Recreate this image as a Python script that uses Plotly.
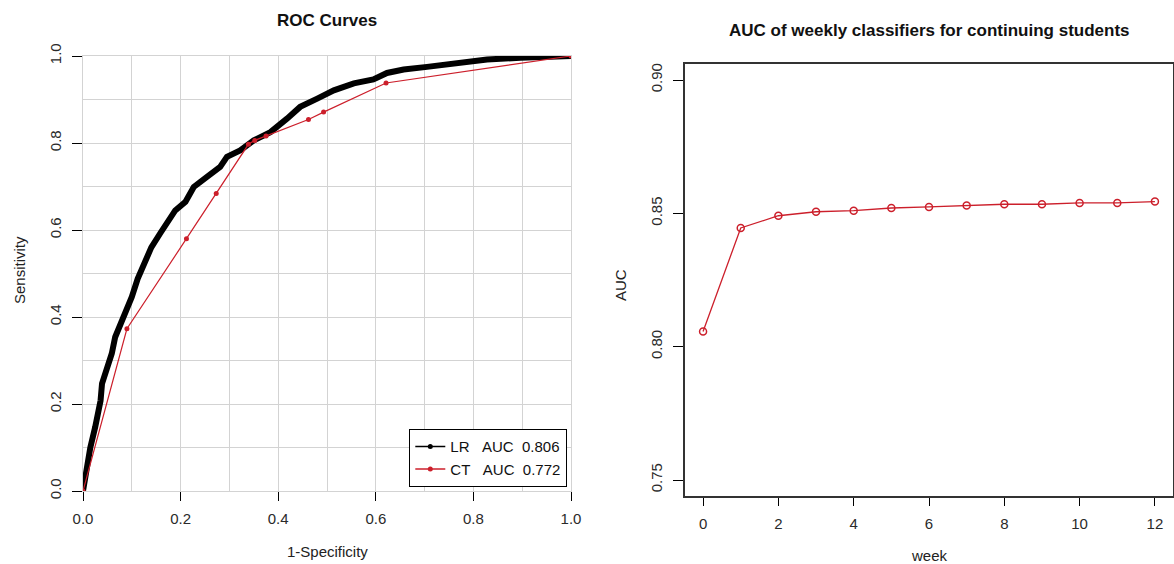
import plotly.graph_objects as go

# ---- ROC data (left panel) ----
lr_fpr = [0, 0.005, 0.015, 0.025, 0.036, 0.039, 0.049, 0.059, 0.066, 0.077, 0.087, 0.100,
          0.112, 0.128, 0.140, 0.158, 0.189, 0.210, 0.227, 0.254, 0.281, 0.295, 0.322, 0.350,
          0.384, 0.418, 0.445, 0.480, 0.514, 0.555, 0.595, 0.623, 0.657, 0.705, 0.759, 0.828,
          0.896, 0.964, 1.0]
lr_tpr = [0, 0.040, 0.100, 0.147, 0.208, 0.247, 0.277, 0.316, 0.354, 0.385, 0.408, 0.446,
          0.488, 0.530, 0.560, 0.592, 0.645, 0.665, 0.699, 0.722, 0.745, 0.768, 0.783, 0.806,
          0.825, 0.856, 0.883, 0.902, 0.921, 0.937, 0.946, 0.961, 0.969, 0.975, 0.983, 0.992,
          0.996, 0.999, 1.0]
ct_fpr = [0, 0.090, 0.212, 0.273, 0.339, 0.352, 0.375, 0.462, 0.493, 0.621, 1.0]
ct_tpr = [0, 0.373, 0.580, 0.684, 0.797, 0.806, 0.816, 0.854, 0.871, 0.938, 1.0]
legend_labels = ["LR\u00a0\u00a0\u00a0AUC\u00a0\u00a00.806", "CT\u00a0\u00a0\u00a0AUC\u00a0\u00a00.772"]

# ---- weekly AUC (right panel) ----
weeks = [0, 1, 2, 3, 4, 5, 6, 7, 8, 9, 10, 11, 12]
auc = [0.8057, 0.8445, 0.8491, 0.8506, 0.8510, 0.8520, 0.8524, 0.8529, 0.8534, 0.8534,
       0.8539, 0.8539, 0.8544]

left_ticks = [0, 0.2, 0.4, 0.6, 0.8, 1.0]
left_ticktext = ["0.0", "0.2", "0.4", "0.6", "0.8", "1.0"]
right_xticks = [0, 2, 4, 6, 8, 10, 12]
right_yticks = [0.75, 0.80, 0.85, 0.90]
right_yticktext = ["0.75", "0.80", "0.85", "0.90"]

FONT = "Liberation Sans, Arial, sans-serif"
RED = "#cc1f2b"
W, H = 1174, 564

fig = go.Figure()

fig.add_trace(go.Scatter(x=lr_fpr, y=lr_tpr, mode="lines", line=dict(color="black", width=6),
                         showlegend=False, xaxis="x", yaxis="y"))
fig.add_trace(go.Scatter(x=ct_fpr, y=ct_tpr, mode="lines+markers",
                         line=dict(color=RED, width=1.2), marker=dict(color=RED, size=5),
                         showlegend=False, xaxis="x", yaxis="y"))
# legend entries
fig.add_trace(go.Scatter(x=[None], y=[None], mode="lines+markers", name=legend_labels[0],
                         line=dict(color="black", width=1.5), marker=dict(color="black", size=5),
                         xaxis="x", yaxis="y"))
fig.add_trace(go.Scatter(x=[None], y=[None], mode="lines+markers", name=legend_labels[1],
                         line=dict(color=RED, width=1.5), marker=dict(color=RED, size=5),
                         xaxis="x", yaxis="y"))

fig.add_trace(go.Scatter(x=weeks, y=auc, mode="lines+markers",
                         line=dict(color=RED, width=1.3),
                         marker=dict(symbol="circle-open", color=RED, size=7, line=dict(width=1.5)),
                         showlegend=False, xaxis="x2", yaxis="y2"))

def px(x):
    return x / W

def py(y):
    return (H - y) / H

grid = "#d3d3d3"
tickfont = dict(family=FONT, size=15, color="#2a2a2a")

fig.update_layout(
    width=W, height=H,
    margin=dict(l=0, r=0, t=0, b=0, pad=0, autoexpand=False),
    paper_bgcolor="white", plot_bgcolor="white",
    font=dict(family=FONT, size=15, color="#111"),
    xaxis=dict(domain=[px(83), px(571)], range=[0, 1], tickvals=left_ticks, ticktext=left_ticktext,
               showgrid=True, gridcolor=grid, gridwidth=1, zeroline=False,
               showline=True, linecolor=grid, mirror=True, automargin=False,
               ticks="outside", ticklen=9, tickcolor="black", tickwidth=1.3, tickfont=tickfont,
               ticklabelstandoff=5,
               minor=dict(dtick=0.1, tick0=0, showgrid=True, gridcolor=grid, gridwidth=1, ticks=""),
               anchor="y"),
    yaxis=dict(domain=[py(491), py(56)], range=[0, 1], tickvals=left_ticks, ticktext=left_ticktext,
               showgrid=True, gridcolor=grid, gridwidth=1, zeroline=False,
               showline=True, linecolor=grid, mirror=True, automargin=False,
               ticks="outside", ticklen=10, tickcolor="black", tickwidth=1.3, tickfont=tickfont,
               tickangle=-90, ticklabelstandoff=5,
               minor=dict(dtick=0.1, tick0=0, showgrid=True, gridcolor=grid, gridwidth=1, ticks=""),
               anchor="x"),
    xaxis2=dict(domain=[px(685), px(1173)], range=[-0.48, 12.48], tickvals=right_xticks,
                showgrid=False, zeroline=False, showline=True, linecolor="#333", linewidth=1.5,
                mirror=True, ticks="outside", ticklen=8, tickcolor="black", tickwidth=1.3,
                tickfont=tickfont, anchor="y2", automargin=False, ticklabelstandoff=5),
    yaxis2=dict(domain=[py(496), py(64)], range=[0.744, 0.906], tickvals=right_yticks,
                ticktext=right_yticktext,
                showgrid=False, zeroline=False, showline=True, linecolor="#333", linewidth=1.5,
                mirror=True, ticks="outside", ticklen=10, tickcolor="black", tickwidth=1.3,
                tickfont=tickfont, tickangle=-90, anchor="x2", automargin=False,
                ticklabelstandoff=5),
    legend=dict(x=px(567), y=py(487), xanchor="right", yanchor="bottom",
                bordercolor="black", borderwidth=1.3, bgcolor="white",
                font=dict(family=FONT, size=15, color="#111"),
                tracegroupgap=0, itemwidth=30),
    annotations=[
        dict(text="<b>ROC Curves</b>", x=px(327), y=py(20), xref="paper", yref="paper",
             showarrow=False, font=dict(family=FONT, size=17, color="#111"),
             xanchor="center", yanchor="middle"),
        dict(text="<b>AUC of weekly classifiers for continuing students</b>", x=px(929), y=py(31),
             xref="paper", yref="paper", showarrow=False,
             font=dict(family=FONT, size=17, color="#111"), xanchor="center", yanchor="middle"),
        dict(text="1-Specificity", x=px(327), y=py(551), xref="paper", yref="paper",
             showarrow=False, font=dict(family=FONT, size=15, color="#222"),
             xanchor="center", yanchor="middle"),
        dict(text="Sensitivity", x=px(19), y=py(270), xref="paper", yref="paper", textangle=-90,
             showarrow=False, font=dict(family=FONT, size=15, color="#222"),
             xanchor="center", yanchor="middle"),
        dict(text="week", x=px(929), y=py(555), xref="paper", yref="paper",
             showarrow=False, font=dict(family=FONT, size=15, color="#222"),
             xanchor="center", yanchor="middle"),
        dict(text="AUC", x=px(621), y=py(285), xref="paper", yref="paper", textangle=-90,
             showarrow=False, font=dict(family=FONT, size=15, color="#222"),
             xanchor="center", yanchor="middle"),
    ],
)

fig.write_html("out.html", config={"displayModeBar": False},
               post_script="document.body.style.margin='0px';document.body.style.overflow='hidden';")
